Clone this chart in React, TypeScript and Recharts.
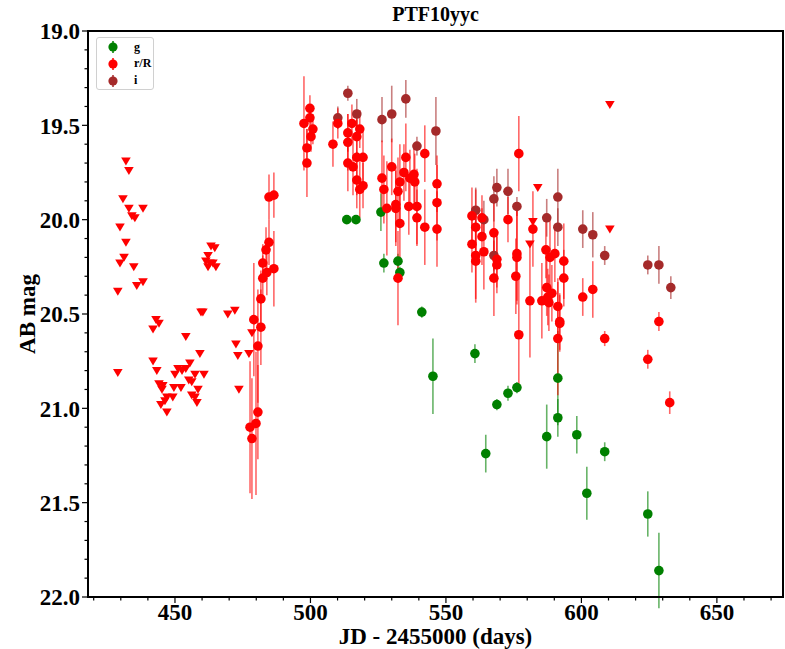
import React from "react";
import { ScatterChart, Scatter, XAxis, YAxis, ErrorBar } from "recharts";

// [day, mag, err]
const gBand = [
  [513.4, 20.0, 0.02], [516.8, 20.0, 0.02], [526.0, 19.96, 0.1], [527.1, 20.23, 0.05],
  [532.3, 20.22, 0.04], [533.0, 20.28, 0.03], [541.1, 20.49, 0.03], [545.2, 20.83, 0.2],
  [560.7, 20.71, 0.05], [564.7, 21.24, 0.1], [568.8, 20.98, 0.03], [572.9, 20.92, 0.04],
  [576.2, 20.89, 0.03], [587.2, 21.15, 0.17], [591.3, 20.84, 0.25], [591.3, 21.05, 0.1],
  [598.3, 21.14, 0.1], [602.0, 21.45, 0.14], [608.6, 21.23, 0.05], [624.5, 21.56, 0.12],
  [628.6, 21.86, 0.2],
];

const rBand = [
  // rise
  [477.7, 21.1, 0.35], [478.4, 21.16, 0.32], [479.9, 21.08, 0.38], [480.6, 21.02, 0.25],
  [480.6, 20.67, 0.3], [481.7, 20.57, 0.2], [479.1, 20.53, 0.3], [481.7, 20.42, 0.15],
  [482.4, 20.31, 0.12], [483.9, 20.28, 0.12], [482.4, 20.23, 0.1], [486.5, 20.26, 0.2],
  [483.6, 20.16, 0.12], [484.7, 20.12, 0.12], [484.7, 19.88, 0.12], [486.5, 19.87, 0.12],
  // peak
  [497.6, 19.49, 0.25], [499.8, 19.41, 0.07], [499.8, 19.46, 0.07], [500.9, 19.52, 0.08],
  [500.2, 19.56, 0.08], [498.7, 19.62, 0.1], [498.7, 19.7, 0.18], [508.3, 19.6, 0.12],
  [510.1, 19.49, 0.08], [513.8, 19.54, 0.1], [515.3, 19.49, 0.1], [513.8, 19.59, 0.15],
  [517.1, 19.56, 0.12], [518.2, 19.52, 0.1], [517.1, 19.67, 0.2], [519.4, 19.67, 0.15],
  [513.8, 19.7, 0.15], [515.7, 19.72, 0.15], [517.1, 19.79, 0.15], [519.4, 19.82, 0.12],
  [518.2, 19.84, 0.15],
  // decline
  [526.4, 19.78, 0.2], [527.1, 19.84, 0.18], [528.2, 19.94, 0.25], [530.0, 19.72, 0.15],
  [531.5, 19.92, 0.2], [531.5, 19.94, 0.2], [532.3, 19.85, 0.18], [533.0, 19.8, 0.2],
  [533.0, 20.02, 0.2], [534.5, 19.75, 0.15], [535.2, 19.67, 0.18], [536.3, 19.93, 0.15],
  [536.7, 19.78, 0.15], [538.2, 19.76, 0.15], [538.5, 19.8, 0.15], [539.3, 19.93, 0.2],
  [539.3, 19.99, 0.15], [542.2, 19.65, 0.15], [542.2, 20.04, 0.2], [546.7, 19.81, 0.15],
  [546.7, 19.91, 0.2], [546.7, 20.05, 0.2], [532.3, 20.31, 0.25],
  [559.6, 19.98, 0.15], [561.0, 20.04, 0.2], [559.6, 20.13, 0.15], [561.0, 20.19, 0.25],
  [561.0, 20.22, 0.2], [563.3, 19.99, 0.12], [563.3, 20.09, 0.15], [564.0, 20.17, 0.2],
  [567.7, 20.07, 0.2], [568.8, 20.21, 0.15], [568.8, 20.24, 0.15], [567.7, 20.31, 0.2],
  [572.9, 20.0, 0.12], [576.2, 20.18, 0.25], [576.2, 20.2, 0.25], [575.8, 20.3, 0.2],
  [576.9, 19.65, 0.2], [576.9, 20.61, 0.3], [581.0, 20.43, 0.3], [582.1, 20.05, 0.2],
  [586.9, 20.16, 0.15], [588.4, 20.2, 0.2], [590.2, 20.18, 0.15], [593.5, 20.22, 0.2],
  [593.5, 20.31, 0.15], [585.4, 20.43, 0.2], [587.2, 20.36, 0.15], [587.6, 20.41, 0.15],
  [589.1, 20.39, 0.15], [588.0, 20.44, 0.15], [591.3, 20.46, 0.15], [592.0, 20.54, 0.15],
  [592.0, 20.55, 0.15], [591.3, 20.63, 0.3], [600.5, 20.41, 0.1], [604.2, 20.37, 0.15],
  [608.6, 20.63, 0.04], [624.5, 20.74, 0.05], [628.6, 20.54, 0.05], [632.6, 20.97, 0.06],
];

const iBand = [
  [513.8, 19.33, 0.04], [510.1, 19.46, 0.06], [517.1, 19.44, 0.08], [526.4, 19.47, 0.12],
  [530.0, 19.44, 0.15], [535.2, 19.36, 0.1], [539.3, 19.61, 0.05], [546.3, 19.53, 0.18],
  [561.0, 19.95, 0.12], [564.0, 20.0, 0.1], [567.7, 19.89, 0.12], [568.8, 19.83, 0.1],
  [572.9, 19.85, 0.12], [576.2, 19.93, 0.05], [567.7, 20.19, 0.1], [587.2, 19.99, 0.1],
  [591.3, 19.88, 0.15], [591.3, 20.04, 0.1], [600.5, 20.05, 0.1], [604.2, 20.08, 0.12],
  [608.6, 20.19, 0.05], [624.5, 20.24, 0.05], [628.6, 20.24, 0.1], [633.0, 20.36, 0.06],
];

// r/R upper limits [day, mag]
const rLimits = [
  [431.9, 19.69], [433.0, 19.74], [430.8, 19.89], [433.0, 19.94], [438.2, 19.94], [434.1, 19.98],
  [435.2, 19.99], [429.7, 20.04], [431.9, 20.12], [431.2, 20.2], [429.7, 20.23], [434.8, 20.25],
  [435.9, 20.35], [438.2, 20.33], [428.9, 20.38], [428.9, 20.81],
  [443.0, 20.53], [444.1, 20.55], [441.9, 20.58], [454.0, 20.62], [459.2, 20.71], [459.6, 20.49],
  [460.3, 20.49], [469.5, 20.5], [472.1, 20.48], [472.5, 20.66], [473.2, 20.72], [473.6, 20.9],
  [441.9, 20.75], [443.3, 20.8], [444.1, 20.87], [445.5, 20.88], [445.2, 20.9], [449.6, 20.89],
  [452.2, 20.89], [450.0, 20.82], [451.1, 20.79], [452.6, 20.8], [454.0, 20.79], [455.5, 20.76],
  [457.4, 20.82], [460.7, 20.82], [455.1, 20.85], [456.2, 20.86], [458.5, 20.9], [447.0, 20.94],
  [446.3, 20.96], [444.8, 20.98], [447.0, 21.02], [449.2, 20.94], [456.2, 20.93], [457.4, 20.94],
  [458.1, 20.97],
  [463.3, 20.14], [464.7, 20.15], [462.2, 20.19], [461.4, 20.22], [462.9, 20.23], [462.2, 20.25],
  [465.1, 20.25], [464.0, 20.23], [478.4, 20.6], [477.3, 20.71],
  [583.9, 19.83], [582.1, 20.01], [581.0, 20.13], [610.5, 19.39], [610.5, 20.05],
];

const yMajor = [19.0, 19.5, 20.0, 20.5, 21.0, 21.5, 22.0];
const xMajor = [450, 500, 550, 600, 650];
const xDomain = [417.9, 674.4];

const W = 785;
const H = 649;
const PL = 88;
const PT = 31;
const PR = 783;
const PB = 597;
const FONT = '"Liberation Serif", "Times New Roman", serif';

const GREEN = "#008000";
const RED = "#ff0000";
const BROWN = "#a52a2a";

const toRows = (arr: number[][]) => arr.map(([day, mag, err]) => ({ day, mag, err }));

const yTicks = Array.from({ length: 31 }, (_, i) => Math.round((19 + i * 0.1) * 10) / 10);
const xTicks = Array.from({ length: 26 }, (_, i) => 420 + i * 10);

function YTick({ y, payload }: any) {
  const v = payload.value;
  const major = yMajor.some((m) => Math.abs(m - v) < 1e-6);
  return (
    <g>
      <line x1={PL - (major ? 6 : 3.5)} x2={PL} y1={y} y2={y} stroke="#000" strokeWidth={1.2} />
      {major && (
        <text x={PL - 8} y={y} dy="0.36em" textAnchor="end" fontFamily={FONT} fontWeight="bold" fontSize={23} fill="#000">
          {v.toFixed(1)}
        </text>
      )}
    </g>
  );
}

function XTick({ x, payload }: any) {
  const v = payload.value;
  const major = xMajor.includes(v);
  return (
    <g>
      <line x1={x} x2={x} y1={PB} y2={PB + (major ? 6 : 3.5)} stroke="#000" strokeWidth={1.2} />
      {major && (
        <text x={x} y={PB + 23} textAnchor="middle" fontFamily={FONT} fontWeight="bold" fontSize={23} fill="#000">
          {v}
        </text>
      )}
    </g>
  );
}

const dot = (color: string) => (p: any) => <circle cx={p.cx} cy={p.cy} r={4.8} fill={color} />;
const tri = (p: any) => (
  <polygon
    points={`${p.cx - 4.8},${p.cy - 3.6} ${p.cx + 4.8},${p.cy - 3.6} ${p.cx},${p.cy + 4.4}`}
    fill={RED}
  />
);

function LegendBox() {
  const items = [
    { label: "g", color: GREEN },
    { label: "r/R", color: RED },
    { label: "i", color: BROWN },
  ];
  return (
    <div
      style={{
        position: "absolute",
        left: 96,
        top: 37,
        width: 58,
        height: 53,
        border: "1px solid #d0d0d0",
        borderRadius: 3,
        background: "#fff",
        boxSizing: "border-box",
      }}
    >
      {items.map((it, i) => (
        <div key={it.label} style={{ position: "absolute", left: 8, top: 1 + i * 16.8, height: 16, display: "flex", alignItems: "center" }}>
          <svg width={16} height={16}>
            <line x1={8} x2={8} y1={2} y2={14} stroke={it.color} strokeWidth={1.5} />
            <circle cx={8} cy={8} r={4.6} fill={it.color} />
          </svg>
          <span style={{ marginLeft: 13, fontFamily: FONT, fontWeight: "bold", fontSize: 12, color: "#000" }}>{it.label}</span>
        </div>
      ))}
    </div>
  );
}

export default function App() {
  return (
    <div style={{ position: "absolute", left: 0, top: 0, width: W, height: H, background: "#fff" }}>
      <ScatterChart width={W} height={H} margin={{ top: PT, right: W - PR, bottom: 0, left: 0 }}>
        <XAxis
          type="number"
          dataKey="day"
          domain={xDomain}
          allowDataOverflow
          ticks={xTicks}
          interval={0}
          tick={<XTick />}
          tickLine={false}
          axisLine={false}
          height={H - PB}
        />
        <YAxis
          type="number"
          dataKey="mag"
          domain={[19, 22]}
          reversed
          allowDataOverflow
          ticks={yTicks}
          interval={0}
          tick={<YTick />}
          tickLine={false}
          axisLine={false}
          width={PL}
        />
        <Scatter data={rLimits.map(([day, mag]) => ({ day, mag }))} shape={tri} isAnimationActive={false} />
        <Scatter data={toRows(gBand)} shape={dot(GREEN)} isAnimationActive={false}>
          <ErrorBar dataKey="err" direction="y" width={0} stroke={GREEN} strokeOpacity={0.6} strokeWidth={1.6} />
        </Scatter>
        <Scatter data={toRows(iBand)} shape={dot(BROWN)} isAnimationActive={false}>
          <ErrorBar dataKey="err" direction="y" width={0} stroke={BROWN} strokeOpacity={0.6} strokeWidth={1.6} />
        </Scatter>
        <Scatter data={toRows(rBand)} shape={dot(RED)} isAnimationActive={false}>
          <ErrorBar dataKey="err" direction="y" width={0} stroke={RED} strokeOpacity={0.6} strokeWidth={1.6} />
        </Scatter>
      </ScatterChart>

      {/* frame */}
      <div
        style={{
          position: "absolute",
          left: PL - 1,
          top: PT - 1,
          width: PR - PL + 2,
          height: PB - PT + 2,
          border: "2px solid #000",
          boxSizing: "border-box",
          pointerEvents: "none",
        }}
      />
      <LegendBox />

      <div style={{ position: "absolute", left: PL, width: PR - PL, top: 4, lineHeight: 1, textAlign: "center", fontFamily: FONT, fontWeight: "bold", fontSize: 20 }}>
        PTF10yyc
      </div>
      <div style={{ position: "absolute", left: PL, width: PR - PL, top: 625, lineHeight: 1, textAlign: "center", fontFamily: FONT, fontWeight: "bold", fontSize: 23 }}>
        JD - 2455000 (days)
      </div>
      <div
        style={{
          position: "absolute",
          left: 27,
          top: (PT + PB) / 2,
          lineHeight: 1,
          transform: "translate(-50%, -50%) rotate(-90deg)",
          whiteSpace: "nowrap",
          fontFamily: FONT,
          fontWeight: "bold",
          fontSize: 23,
        }}
      >
        AB mag
      </div>
    </div>
  );
}
